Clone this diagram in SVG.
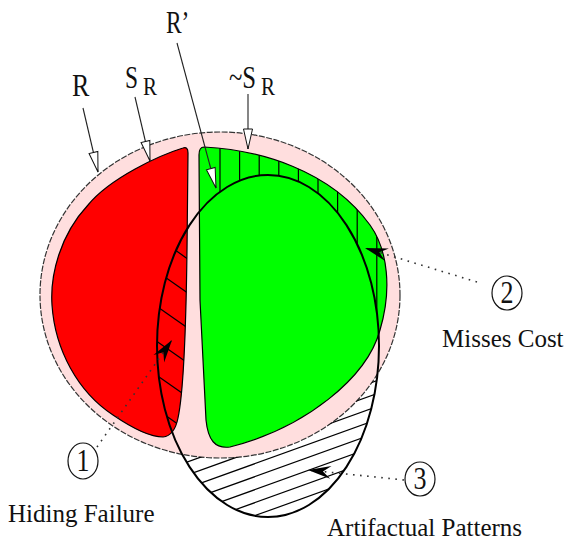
<svg xmlns="http://www.w3.org/2000/svg" width="567" height="543" viewBox="0 0 567 543">
<style>
.lbl{font-family:"Liberation Serif","Times New Roman",serif;fill:#111}
.big{font-size:26px}
.sub{font-size:21px}
.cap{font-size:25px}
.num{font-size:26px;text-anchor:middle}
.hatch{stroke:#000;stroke-width:1.2;fill:none}
.ptr{stroke:#222;stroke-width:1.1;fill:none}
.dot{stroke:#333;stroke-width:1.6;fill:none;stroke-dasharray:1.6 5.5}
.ring{fill:#fff;stroke:#111;stroke-width:1.2}
</style>
<defs>
<marker id="open" viewBox="-21 -6 22 12" refX="0" refY="0" markerWidth="22" markerHeight="12" markerUnits="userSpaceOnUse" orient="auto">
<path d="M0,0 L-20,-4.5 L-20,4.5 Z" fill="#fff" stroke="#111" stroke-width="1"/>
</marker>
<marker id="dart" viewBox="-25 -8 26 16" refX="0" refY="0" markerWidth="26" markerHeight="16" markerUnits="userSpaceOnUse" orient="auto">
<path d="M0,0 L-23,-6.5 L-15,0 L-23,6.5 Z" fill="#000"/>
</marker>
<path id="redShape" d="M183,148 C160,155 110,178 88,205 C60,235 50,275 52,305 C55,350 78,392 113,415 C135,430 150,437 163,437 C172,436 176,428 178,418 C184,390 186,330 187,250 L188,153 C188,148 186,147 183,148 Z"/>
<path id="greenShape" d="M204,147 C260,150 330,170 370,225 C388,250 392,290 380,330 C367,378 305,428 230,447 C215,449 208,440 206,420 L200,300 L199,155 C199,149 201,147 204,147 Z"/>
<clipPath id="clipRed"><use href="#redShape"/></clipPath>
<clipPath id="clipGreen"><use href="#greenShape"/></clipPath>
<clipPath id="clipRp"><ellipse cx="268" cy="346" rx="111" ry="171"/></clipPath>
<mask id="outRp" maskUnits="userSpaceOnUse" x="0" y="0" width="567" height="543">
<rect x="0" y="0" width="567" height="543" fill="#fff"/>
<ellipse cx="268" cy="346" rx="111" ry="171" fill="#000"/>
</mask>
<mask id="outPink" maskUnits="userSpaceOnUse" x="0" y="0" width="567" height="543">
<rect x="0" y="0" width="567" height="543" fill="#fff"/>
<ellipse cx="220" cy="295" rx="180" ry="163" fill="#000"/>
</mask>
</defs>

<g id="database">
<ellipse cx="220" cy="295" rx="180" ry="163" fill="#FFDEDE" stroke="#333" stroke-width="1.2" stroke-dasharray="6 1.5"/>
</g>

<g id="sensitive">
<use href="#redShape" fill="#FF0000" stroke="#000" stroke-width="1.2"/>
</g>

<g id="nonsensitive">
<use href="#greenShape" fill="#00FF00" stroke="#000" stroke-width="1.2"/>
</g>

<g id="misses-hatch" clip-path="url(#clipGreen)">
<g mask="url(#outRp)" class="hatch">
<line x1="220" y1="140" x2="220" y2="340"/>
<line x1="239.6" y1="140" x2="239.6" y2="340"/>
<line x1="259.2" y1="140" x2="259.2" y2="340"/>
<line x1="278.8" y1="140" x2="278.8" y2="340"/>
<line x1="298.4" y1="140" x2="298.4" y2="340"/>
<line x1="318" y1="140" x2="318" y2="340"/>
<line x1="337.6" y1="140" x2="337.6" y2="340"/>
<line x1="357.2" y1="140" x2="357.2" y2="340"/>
<line x1="376.8" y1="140" x2="376.8" y2="340"/>
</g>
</g>

<g id="hiding-hatch" clip-path="url(#clipRp)">
<g clip-path="url(#clipRed)" class="hatch">
<line x1="140" y1="225.5" x2="195" y2="264"/>
<line x1="140" y1="259.5" x2="195" y2="298"/>
<line x1="140" y1="294.5" x2="195" y2="333"/>
<line x1="140" y1="329.5" x2="195" y2="368"/>
<line x1="140" y1="363.5" x2="195" y2="402"/>
<line x1="140" y1="397.5" x2="195" y2="436"/>
</g>
</g>

<g id="artifact-hatch" clip-path="url(#clipRp)">
<g mask="url(#outPink)" class="hatch">
<line x1="140" y1="453" x2="400" y2="359.4"/>
<line x1="140" y1="466" x2="400" y2="372.4"/>
<line x1="140" y1="479" x2="400" y2="385.4"/>
<line x1="140" y1="492" x2="400" y2="398.4"/>
<line x1="140" y1="505" x2="400" y2="411.4"/>
<line x1="140" y1="518" x2="400" y2="424.4"/>
<line x1="140" y1="531" x2="400" y2="437.4"/>
<line x1="140" y1="544" x2="400" y2="450.4"/>
<line x1="140" y1="557" x2="400" y2="463.4"/>
<line x1="140" y1="570" x2="400" y2="476.4"/>
</g>
</g>

<g id="sanitized">
<ellipse cx="268" cy="346" rx="111" ry="171" fill="none" stroke="#000" stroke-width="2"/>
</g>

<g id="connectors">
<line class="ptr" x1="83" y1="108" x2="98" y2="172" marker-end="url(#open)"/>
<line class="ptr" x1="135" y1="97" x2="150" y2="161" marker-end="url(#open)"/>
<line class="ptr" x1="177" y1="43" x2="216" y2="188" marker-end="url(#open)"/>
<line class="ptr" x1="248" y1="94" x2="248" y2="149" marker-end="url(#open)"/>
<line class="dot" x1="97" y1="447" x2="172" y2="340" marker-end="url(#dart)"/>
<line class="dot" x1="477" y1="282" x2="365" y2="248" marker-end="url(#dart)"/>
<line class="dot" x1="404" y1="480" x2="308" y2="470" marker-end="url(#dart)"/>
</g>

<g id="label-R"><text class="lbl big" transform="translate(72,96) scale(1,1.2)">R</text></g>
<g id="label-SR"><text class="lbl big" transform="translate(125,88) scale(0.9,1.2)">S</text><text class="lbl sub" transform="translate(143,95) scale(1,1.15)">R</text></g>
<g id="label-Rprime"><text class="lbl big" transform="translate(166,33) scale(0.9,1.2)">R’</text></g>
<g id="label-notSR"><text class="lbl big" transform="translate(229,88) scale(0.95,1.2)">~S</text><text class="lbl sub" transform="translate(261,95) scale(1,1.15)">R</text></g>

<g id="callout-1">
<ellipse class="ring" cx="83" cy="461" rx="15" ry="18"/>
<text class="lbl num" transform="translate(83,471) scale(1,1.2)">1</text>
<text class="lbl cap" x="8" y="522">Hiding Failure</text>
</g>
<g id="callout-2">
<ellipse class="ring" cx="507" cy="293" rx="15" ry="17"/>
<text class="lbl num" transform="translate(507,303) scale(1,1.2)">2</text>
<text class="lbl cap" x="442" y="347">Misses Cost</text>
</g>
<g id="callout-3">
<ellipse class="ring" cx="420" cy="479" rx="15" ry="17"/>
<text class="lbl num" transform="translate(420,489) scale(1,1.2)">3</text>
<text class="lbl cap" x="327" y="536">Artifactual Patterns</text>
</g>
</svg>
